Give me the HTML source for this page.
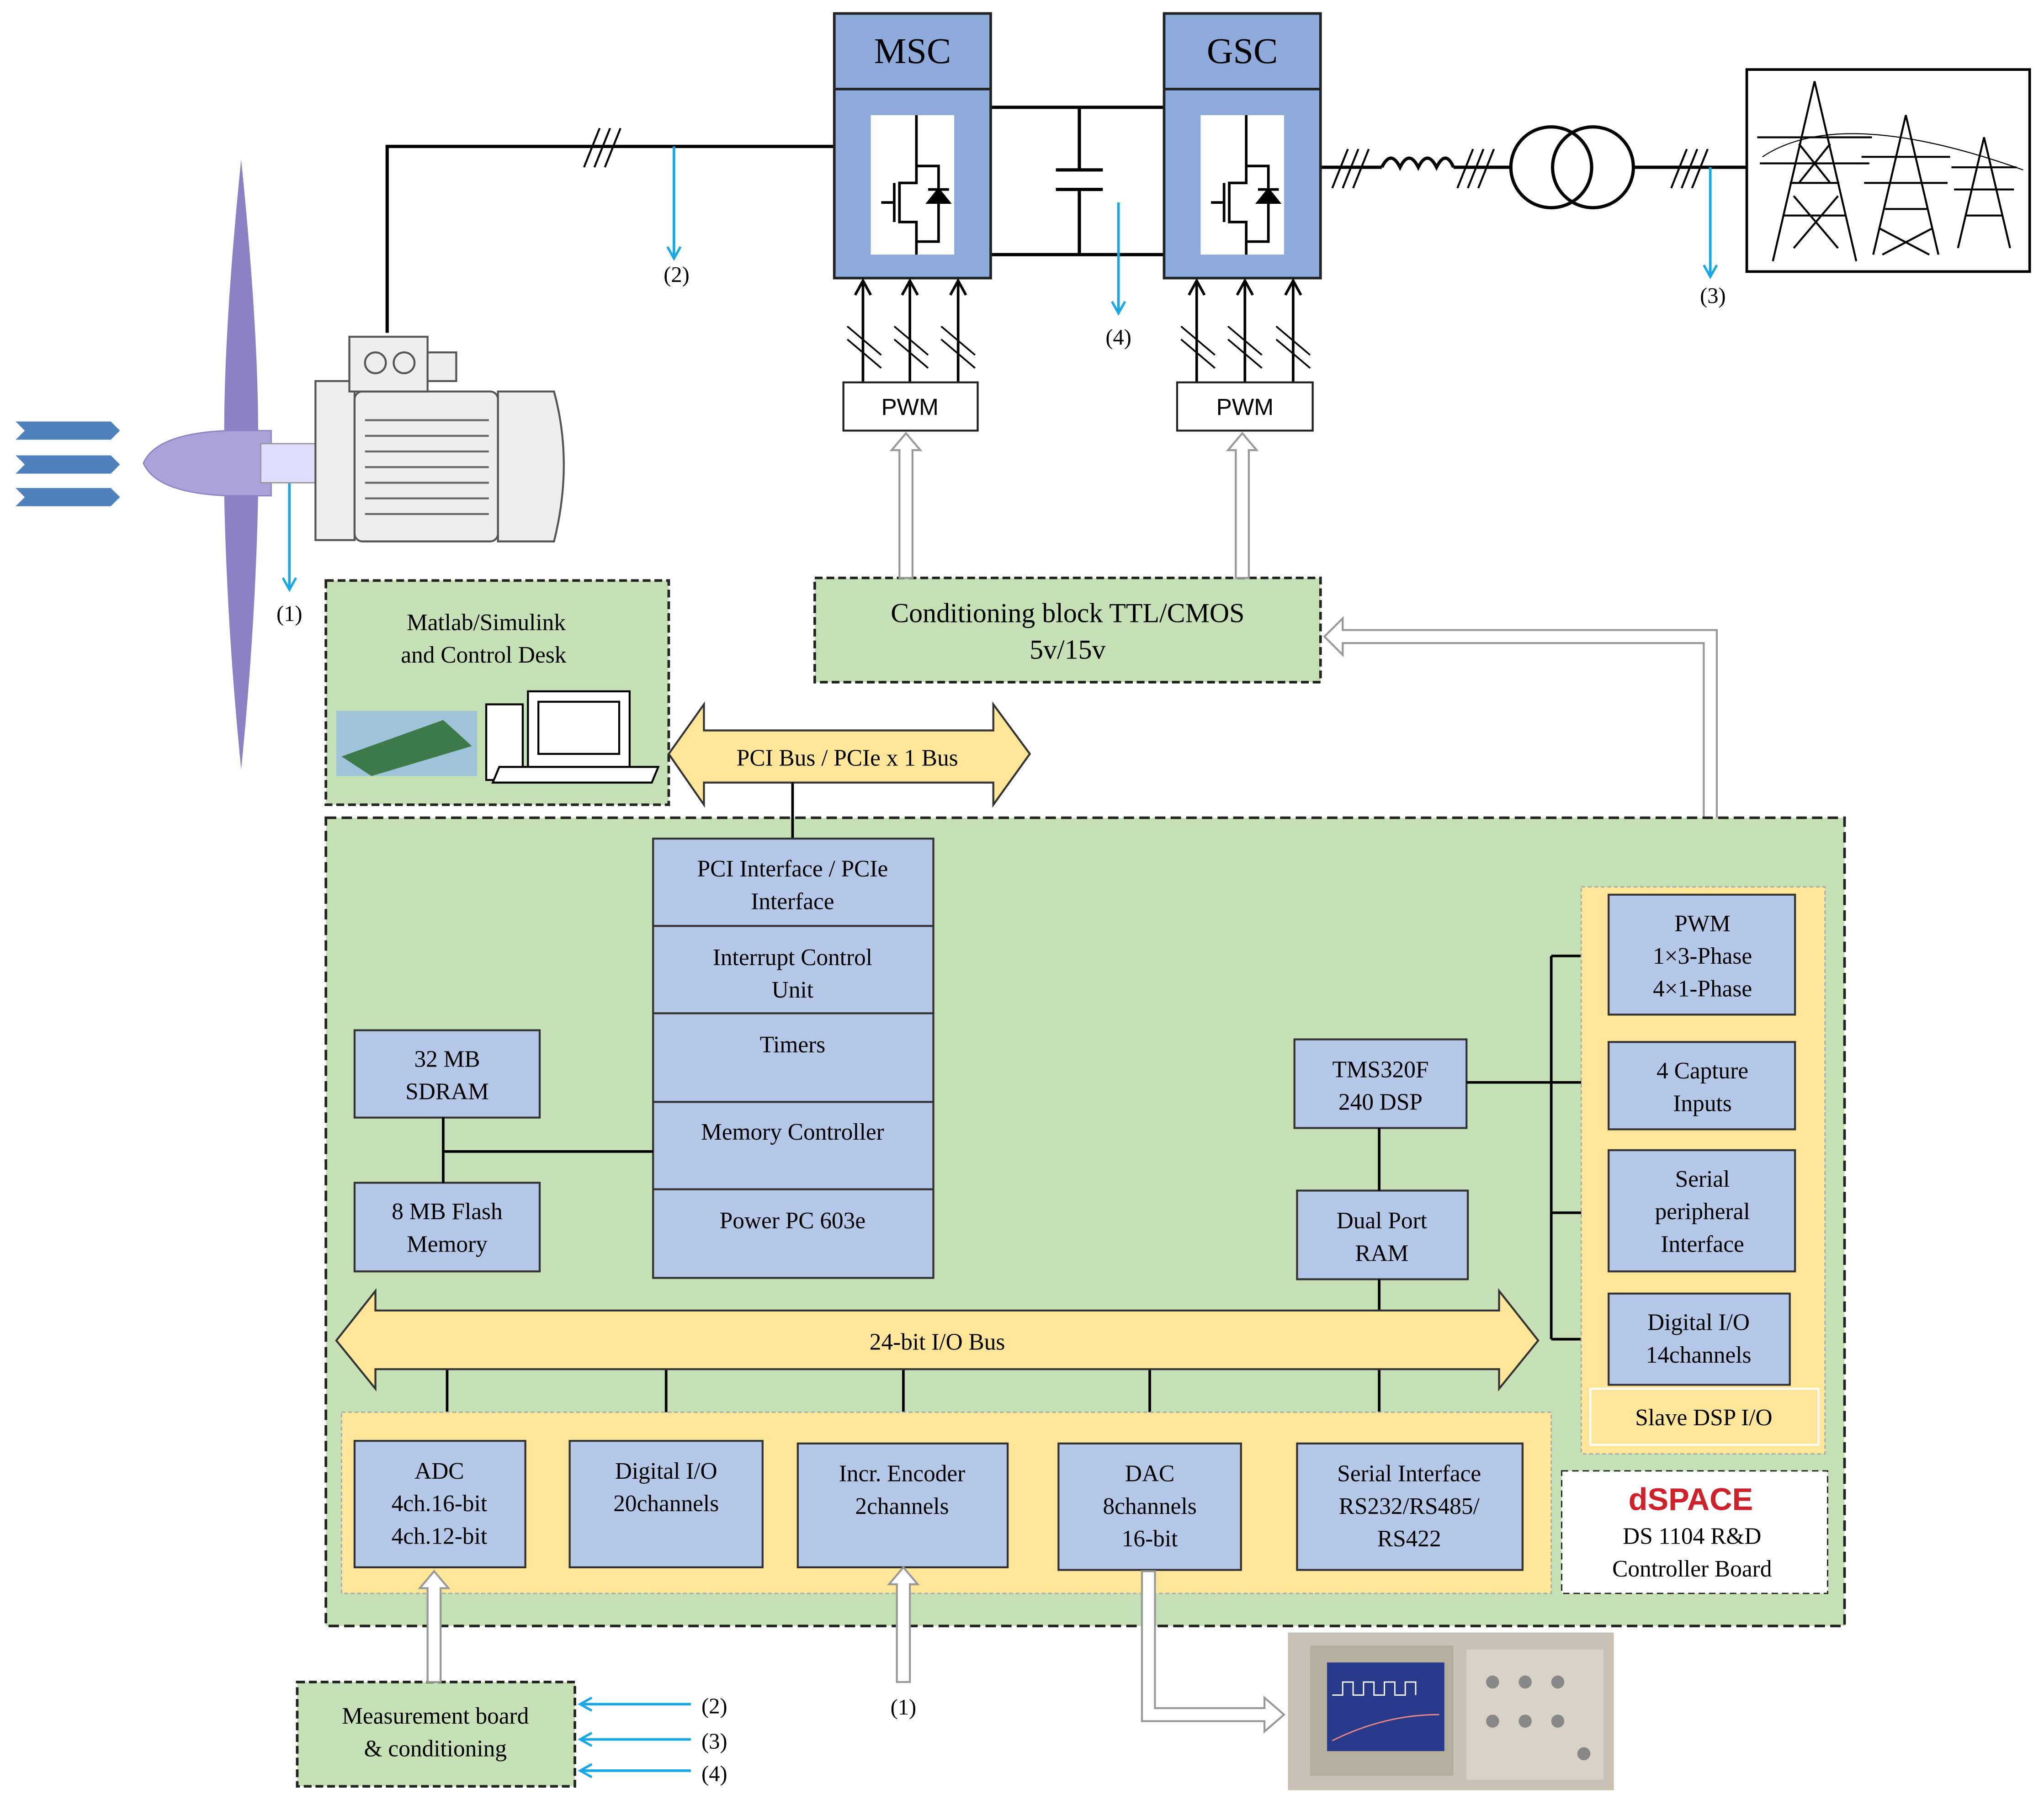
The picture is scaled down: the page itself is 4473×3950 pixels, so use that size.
<!DOCTYPE html>
<html><head><meta charset="utf-8"><style>html,body{margin:0;padding:0;background:#fff}svg{display:block}</style></head>
<body>
<svg xmlns="http://www.w3.org/2000/svg" width="4473" height="3950" viewBox="0 0 1568 1384" font-family="'Liberation Serif',serif" font-size="18">
<defs>
<marker id="ab" markerUnits="userSpaceOnUse" markerWidth="12" markerHeight="12" refX="10" refY="6" orient="auto"><path d="M1,1 L10,6 L1,11" fill="none" stroke="#1aa7e8" stroke-width="1.8"/></marker>
<marker id="ak" markerUnits="userSpaceOnUse" markerWidth="14" markerHeight="14" refX="12" refY="7" orient="auto"><path d="M1,1 L12,7 L1,13" fill="none" stroke="#000" stroke-width="2"/></marker>
</defs>
<rect width="1568" height="1384" fill="#fff"/>
<g stroke="#000" stroke-width="2.5" fill="none">
<path d="M297,255 V112 H640"/>
<path d="M760,82 H893 M760,195 H893 M828,82 V130 M828,145 V195 M810,130 H846 M810,145 H846"/>
<path d="M1013,128 H1060 M1115,128 H1160 M1252,128 H1340"/>
<path d="M1060,128 q7,-14 14,0 q7,-14 14,0 q7,-14 14,0 q7,-14 13,0"/>
<circle cx="1190" cy="128" r="31"/><circle cx="1222" cy="128" r="31"/>
</g>
<g stroke="#000" stroke-width="1.5">
<path d="M448,128 l12,-30 M456,128 l12,-30 M464,128 l12,-30"/>
<path d="M1022,144 l12,-30 M1030,144 l12,-30 M1038,144 l12,-30"/>
<path d="M1118,144 l12,-30 M1126,144 l12,-30 M1134,144 l12,-30"/>
<path d="M1282,144 l12,-30 M1290,144 l12,-30 M1298,144 l12,-30"/>
</g>
<g stroke="#222" stroke-width="2">
<rect x="640" y="10" width="120" height="203" fill="#8eaadb"/><line x1="640" y1="68" x2="760" y2="68"/>
<rect x="893" y="10" width="120" height="203" fill="#8eaadb"/><line x1="893" y1="68" x2="1013" y2="68"/>
</g>
<rect x="668" y="88" width="64" height="107" fill="#fff"/>
<rect x="921" y="88" width="64" height="107" fill="#fff"/>
<g id="ig" stroke="#000" stroke-width="2" fill="none">
<path d="M703,88 V127 H720 V185 H703 V195 M703,127 V140 H690 V170 H703 V185 M686,140 V170 M676,155 H686"/>
<path d="M712,145 H728"/><path d="M712,155 L720,145 L728,155 Z" fill="#000"/>
</g>
<use href="#ig" x="253"/>
<text x="700" y="48" text-anchor="middle" font-size="28">MSC</text>
<text x="953" y="48" text-anchor="middle" font-size="28">GSC</text>
<g stroke="#000" stroke-width="2" marker-end="url(#ak)">
<line x1="662" y1="293" x2="662" y2="215"/><line x1="698" y1="293" x2="698" y2="215"/><line x1="735" y1="293" x2="735" y2="215"/>
<line x1="918" y1="293" x2="918" y2="215"/><line x1="955" y1="293" x2="955" y2="215"/><line x1="992" y1="293" x2="992" y2="215"/>
</g>
<g stroke="#000" stroke-width="1.3">
<path d="M650,250 l26,22 M650,260 l26,22 M686,250 l26,22 M686,260 l26,22 M722,250 l26,22 M722,260 l26,22"/>
<path d="M906,250 l26,22 M906,260 l26,22 M942,250 l26,22 M942,260 l26,22 M979,250 l26,22 M979,260 l26,22"/>
</g>
<g fill="#fff" stroke="#222" stroke-width="1.5">
<rect x="647" y="293" width="103" height="37"/><rect x="903" y="293" width="104" height="37"/>
</g>
<text x="698" y="318" text-anchor="middle" font-family="'Liberation Sans',sans-serif" font-size="18">PWM</text>
<text x="955" y="318" text-anchor="middle" font-family="'Liberation Sans',sans-serif" font-size="18">PWM</text>
<g stroke="#1aa7e8" stroke-width="2" marker-end="url(#ab)">
<line x1="517" y1="112" x2="517" y2="198"/><line x1="858" y1="155" x2="858" y2="240"/>
<line x1="1312" y1="128" x2="1312" y2="212"/><line x1="222" y1="360" x2="222" y2="452"/>
<line x1="530" y1="1307" x2="445" y2="1307"/><line x1="530" y1="1334" x2="445" y2="1334"/><line x1="530" y1="1358" x2="445" y2="1358"/>
</g>
<g font-size="17" text-anchor="middle">
<text x="519" y="216">(2)</text><text x="858" y="264">(4)</text><text x="1314" y="232">(3)</text><text x="222" y="476">(1)</text>
<text x="548" y="1314">(2)</text><text x="548" y="1341">(3)</text><text x="548" y="1366">(4)</text><text x="693" y="1315">(1)</text>
</g>
<rect x="1340" y="53" width="217" height="155" fill="#fff" stroke="#000" stroke-width="2"/>
<g stroke="#000" stroke-width="1.5" fill="none">
<path d="M1360,200 L1392,62 L1424,200 M1373,140 H1411 M1368,165 H1416 M1348,105 H1436 M1350,125 H1434 M1380,110 L1404,140 M1404,110 L1380,140 M1376,150 L1410,190 M1410,150 L1376,190"/>
<path d="M1437,195 L1462,88 L1487,195 M1428,120 H1496 M1430,140 H1494 M1446,160 H1478 M1442,175 L1480,195 M1482,175 L1444,195"/>
<path d="M1502,190 L1522,105 L1542,190 M1497,128 H1547 M1499,145 H1545 M1508,165 H1536"/>
<path d="M1352,120 q60,-40 200,10" stroke-width="0.8"/>
</g>
<path d="M12,323 H85 L92,330 L85,337 H12 L19,330 Z M12,349 H85 L92,356 L85,363 H12 L19,356 Z M12,374 H85 L92,381 L85,388 H12 L19,381 Z" fill="#4f81bd"/>
<path d="M185,122 Q172,250 172,330 L198,330 Q198,250 185,122 Z M172,380 Q174,480 185,590 Q196,480 198,380 Z" fill="#8a82c4"/>
<path d="M110,355 Q120,332 175,330 L208,330 L208,380 L175,380 Q120,378 110,355 Z" fill="#a9a3d9" stroke="#8c85c4"/>
<rect x="200" y="340" width="42" height="30" fill="#ddf" stroke="#999"/>
<g stroke="#555" stroke-width="1.5" fill="#eee">
<rect x="242" y="292" width="30" height="122"/>
<rect x="272" y="300" width="110" height="115" rx="6"/>
<path d="M382,300 H425 Q440,355 425,415 H382 Z"/>
<rect x="268" y="258" width="60" height="42"/><rect x="328" y="270" width="22" height="22"/>
<circle cx="288" cy="278" r="8"/><circle cx="310" cy="278" r="8"/>
</g>
<g stroke="#666" stroke-width="1.5"><path d="M280,322 H375 M280,334 H375 M280,346 H375 M280,358 H375 M280,370 H375 M280,382 H375 M280,394 H375"/></g>
<rect x="625" y="443" width="388" height="80" fill="#c5e0b4" stroke="#222" stroke-width="2" stroke-dasharray="6,3"/>
<text x="819" y="477" text-anchor="middle" font-size="21">Conditioning block TTL/CMOS</text>
<text x="819" y="505" text-anchor="middle" font-size="21">5v/15v</text>
<g fill="#fff" stroke="#999" stroke-width="1.5">
<path d="M690,443 V345 H684 L695,332 L706,345 H700 V443 Z"/>
<path d="M948,443 V345 H942 L953,332 L964,345 H958 V443 Z"/>
<path d="M1307,686 V493 H1030 V502 L1016,488 L1030,474 V483 H1317 V686 Z"/>
</g>
<rect x="250" y="445" width="263" height="172" fill="#c5e0b4" stroke="#222" stroke-width="2" stroke-dasharray="6,3"/>
<text x="373" y="483" text-anchor="middle">Matlab/Simulink</text>
<text x="371" y="508" text-anchor="middle">and Control Desk</text>
<rect x="258" y="545" width="108" height="50" fill="#9fc3d8"/>
<path d="M262,580 L340,552 L362,572 L285,595 Z" fill="#3d7a4a"/>
<g stroke="#000" stroke-width="1.5" fill="#fff">
<rect x="373" y="540" width="28" height="58"/><rect x="405" y="530" width="78" height="58"/><rect x="413" y="538" width="62" height="40"/>
<path d="M383,588 L505,588 L500,600 L378,600 Z"/>
</g>
<rect x="250" y="627" width="1165" height="620" fill="#c5e0b4" stroke="#222" stroke-width="2" stroke-dasharray="8,4"/>
<path d="M513,578 L540,540 V560 H762 V540 L790,578 L762,617 V600 H540 V617 Z" fill="#ffe699" stroke="#333" stroke-width="1.5"/>
<text x="650" y="587" text-anchor="middle">PCI Bus / PCIe x 1 Bus</text>
<line x1="608" y1="600" x2="608" y2="643" stroke="#000" stroke-width="2"/>
<g fill="#b4c7e7" stroke="#333" stroke-width="1.5">
<rect x="501" y="643" width="215" height="67"/><rect x="501" y="710" width="215" height="67"/><rect x="501" y="777" width="215" height="68"/><rect x="501" y="845" width="215" height="67"/><rect x="501" y="912" width="215" height="68"/>
<rect x="272" y="790" width="142" height="67"/><rect x="272" y="907" width="142" height="68"/>
<rect x="993" y="797" width="132" height="68"/><rect x="995" y="913" width="131" height="68"/>
</g>
<g stroke="#000" stroke-width="2" fill="none">
<path d="M340,857 V907 M340,883 H501 M1058,865 V913 M1058,981 V1005"/>
<path d="M1125,830 H1234 M1190,733 V1027 M1190,733 H1234 M1190,930 H1234 M1190,1027 H1234"/>
<path d="M343,1050 V1105 M511,1050 V1105 M693,1050 V1107 M882,1050 V1107 M1058,1050 V1107"/>
</g>
<g text-anchor="middle">
<text x="608" y="672">PCI Interface / PCIe</text><text x="608" y="697">Interface</text>
<text x="608" y="740">Interrupt Control</text><text x="608" y="765">Unit</text>
<text x="608" y="807">Timers</text>
<text x="608" y="874">Memory Controller</text>
<text x="608" y="942">Power PC 603e</text>
<text x="343" y="818">32 MB</text><text x="343" y="843">SDRAM</text>
<text x="343" y="935">8 MB Flash</text><text x="343" y="960">Memory</text>
<text x="1059" y="826">TMS320F</text><text x="1059" y="851">240 DSP</text>
<text x="1060" y="942">Dual Port</text><text x="1060" y="967">RAM</text>
</g>
<rect x="1213" y="680" width="187" height="435" fill="#ffe699" stroke="#aaa" stroke-dasharray="3,2"/>
<rect x="1220" y="1065" width="175" height="43" fill="#ffe699" stroke="#fff" stroke-width="1.5"/>
<text x="1307" y="1093" text-anchor="middle">Slave DSP I/O</text>
<g fill="#b4c7e7" stroke="#333" stroke-width="1.5">
<rect x="1234" y="686" width="143" height="92"/><rect x="1234" y="799" width="143" height="67"/><rect x="1234" y="882" width="143" height="93"/><rect x="1234" y="992" width="139" height="70"/>
</g>
<g text-anchor="middle">
<text x="1306" y="714">PWM</text><text x="1306" y="739">1×3-Phase</text><text x="1306" y="764">4×1-Phase</text>
<text x="1306" y="827">4 Capture</text><text x="1306" y="852">Inputs</text>
<text x="1306" y="910">Serial</text><text x="1306" y="935">peripheral</text><text x="1306" y="960">Interface</text>
<text x="1303" y="1020">Digital I/O</text><text x="1303" y="1045">14channels</text>
</g>
<path d="M258,1028 L288,990 V1005 H1150 V990 L1180,1028 L1150,1065 V1050 H288 V1065 Z" fill="#ffe699" stroke="#333" stroke-width="1.5"/>
<text x="719" y="1035" text-anchor="middle">24-bit I/O Bus</text>
<rect x="262" y="1083" width="928" height="139" fill="#ffe699" stroke="#aaa" stroke-dasharray="3,2"/>
<g fill="#b4c7e7" stroke="#333" stroke-width="1.5">
<rect x="272" y="1105" width="131" height="97"/><rect x="437" y="1105" width="148" height="97"/><rect x="612" y="1107" width="161" height="95"/><rect x="812" y="1107" width="140" height="97"/><rect x="995" y="1107" width="173" height="97"/>
</g>
<g text-anchor="middle">
<text x="337" y="1134">ADC</text><text x="337" y="1159">4ch.16-bit</text><text x="337" y="1184">4ch.12-bit</text>
<text x="511" y="1134">Digital I/O</text><text x="511" y="1159">20channels</text>
<text x="692" y="1136">Incr. Encoder</text><text x="692" y="1161">2channels</text>
<text x="882" y="1136">DAC</text><text x="882" y="1161">8channels</text><text x="882" y="1186">16-bit</text>
<text x="1081" y="1136">Serial Interface</text><text x="1081" y="1161">RS232/RS485/</text><text x="1081" y="1186">RS422</text>
</g>
<rect x="1198" y="1128" width="204" height="94" fill="#fff" stroke="#222" stroke-dasharray="5,3"/>
<text x="1297" y="1158" text-anchor="middle" font-family="'Liberation Sans',sans-serif" font-weight="bold" font-size="24" fill="#d0202a">dSPACE</text>
<text x="1298" y="1184" text-anchor="middle">DS 1104 R&amp;D</text>
<text x="1298" y="1209" text-anchor="middle">Controller Board</text>
<rect x="228" y="1290" width="213" height="80" fill="#c5e0b4" stroke="#222" stroke-width="2" stroke-dasharray="6,3"/>
<text x="334" y="1322" text-anchor="middle">Measurement board</text>
<text x="334" y="1347" text-anchor="middle">&amp; conditioning</text>
<g fill="#fff" stroke="#999" stroke-width="1.5">
<path d="M328,1290 V1218 H322 L333,1205 L344,1218 H338 V1290 Z"/>
<path d="M688,1290 V1215 H682 L693,1202 L704,1215 H698 V1290 Z"/>
<path d="M876,1205 V1320 H970 V1328 L985,1315 L970,1302 V1310 H886 V1205 Z"/>
</g>
<rect x="988" y="1252" width="250" height="121" fill="#c9c2b4"/>
<rect x="1005" y="1262" width="110" height="100" fill="#b5ae9e"/>
<rect x="1018" y="1275" width="90" height="68" fill="#2a3a8a"/>
<path d="M1022,1300 h8 v-10 h8 v10 h8 v-10 h8 v10 h8 v-10 h8 v10 h8 v-10 h8 v10" stroke="#fff" fill="none"/>
<path d="M1022,1335 q40,-20 82,-20" stroke="#e88" fill="none"/>
<rect x="1125" y="1265" width="105" height="100" fill="#d8d2c6"/>
<g fill="#888"><circle cx="1145" cy="1290" r="5"/><circle cx="1170" cy="1290" r="5"/><circle cx="1195" cy="1290" r="5"/><circle cx="1145" cy="1320" r="5"/><circle cx="1170" cy="1320" r="5"/><circle cx="1195" cy="1320" r="5"/><circle cx="1215" cy="1345" r="5"/></g>
</svg>
</body></html>
